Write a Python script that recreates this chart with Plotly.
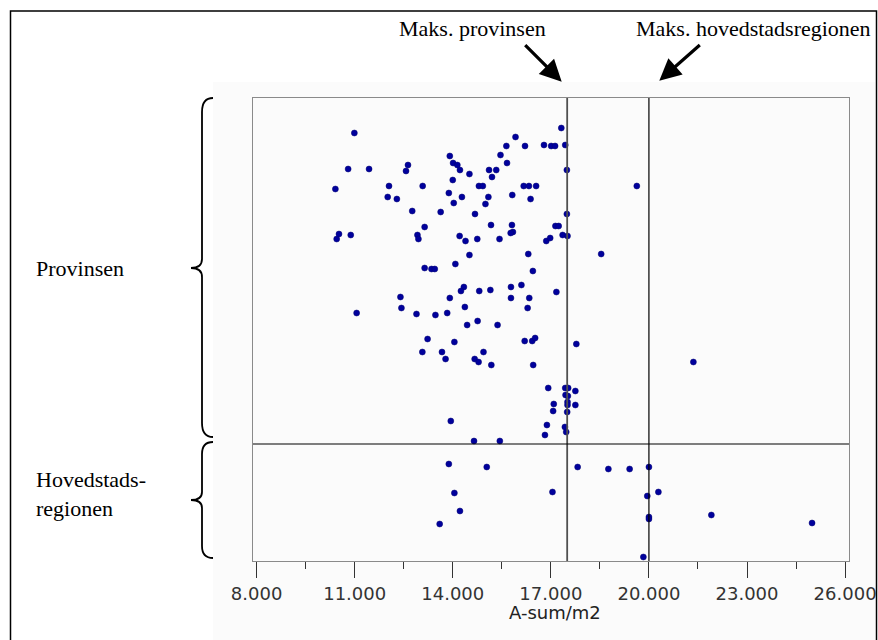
import plotly.graph_objects as go

# ---- data (A-sum/m2 on x; y is only a vertical spread within each group) ----
prov_x = [10990, 17320, 15920, 15640, 16210, 16790, 17010, 17130, 17440, 13910,
          15460, 14010, 14140, 12630, 15660, 10800, 11440, 12570, 14220, 15110,
          15330, 14510, 15200, 17490, 14000, 10410, 12050, 13080, 14800, 14920,
          16170, 16330, 16550, 12010, 12290, 13880, 14280, 14030, 15090, 15820,
          16380, 15000, 12760, 13630, 14680, 17490, 13140, 15170, 15810, 17140,
          17240, 15840, 15770, 10520, 10450, 10880, 12920, 12950, 14210, 14390,
          14750, 15430, 16860, 16980, 17360, 17510, 14510, 16310, 13140, 13350,
          13450, 14080, 16450, 16100, 15780, 14340, 14250, 14810, 15150, 17170,
          12400, 13910, 15780, 16340, 12430, 14370, 16290, 11060, 12890, 13470,
          13830, 14440, 14760, 15370, 13230, 14050, 16200, 16430, 16520, 17780,
          13070, 13670, 14940, 13780, 14670, 14790, 15180, 16460, 16920, 17440,
          17530, 17750, 17450, 17520, 17510, 17510, 17090, 17750, 17070, 17500,
          13940, 16880, 17430, 17470, 16820, 14650, 15440, 19630, 18540, 21360]
prov_y = [427, 432, 423, 414, 414, 415, 414, 414, 415, 404,
          405, 397, 395, 395, 397, 391, 391, 389, 390, 390,
          390, 386, 383, 390, 380, 371, 374, 374, 374, 374,
          374, 374, 374, 363, 361, 367, 363, 357, 363, 365,
          361, 356, 349, 348, 346, 346, 333, 335, 335, 334,
          334, 328, 327, 326, 321, 325, 325, 321, 324, 319,
          321, 321, 319, 322, 325, 324, 305, 306, 292, 291,
          291, 296, 289, 275, 273, 273, 269, 269, 270, 268,
          263, 262, 262, 262, 252, 253, 252, 247, 246, 245,
          247, 235, 239, 235, 221, 218, 219, 219, 222, 216,
          208, 208, 208, 201, 201, 198, 195, 195, 172, 172,
          172, 169, 165, 164, 158, 155, 156, 155, 149, 148,
          139, 135, 133, 128, 125, 119, 119, 374, 306, 198]

hoved_x = [13880, 15040, 17820, 18760, 19410, 20000, 14050, 17050, 20290, 19950,
           14220, 20000, 20000, 21910, 24990, 13600, 19830]
hoved_y = [96, 93, 93, 91, 91, 93, 67, 68, 68, 64,
           49, 43, 41, 45, 37, 36, 3]

x_tickvals = [8000, 11000, 14000, 17000, 20000, 23000, 26000]
max_provinsen = 17500
max_hovedstad = 20000
group_split = 116

# ---- layout helpers (pixel -> paper) ----
W, H = 878, 640
ML, MR, MT, MB = 253, 29, 98, 79
PW, PH = W - ML - MR, H - MT - MB


def pxx(px):
    return (px - ML) / PW


def pyy(py):
    return (H - MB - py) / PH


def brace(top, bot, mid, tip=213, stroke=202, point=191, r=14, r2=9):
    pts = [
        ("M", [(tip, top)]),
        ("Q", [(stroke, top), (stroke, top + r)]),
        ("L", [(stroke, mid - r2)]),
        ("Q", [(stroke, mid), (point, mid)]),
        ("Q", [(stroke, mid), (stroke, mid + r2)]),
        ("L", [(stroke, bot - r)]),
        ("Q", [(stroke, bot), (tip, bot)]),
    ]
    s = ""
    for cmd, ps in pts:
        s += cmd + " " + " ".join(f"{pxx(a):.5f},{pyy(b):.5f}" for a, b in ps) + " "
    return s.strip()


marker = dict(color="#00009c", size=6, symbol="circle",
              line=dict(color="#000070", width=0.5))

fig = go.Figure()
fig.add_trace(go.Scatter(x=prov_x, y=prov_y, mode="markers", marker=marker,
                         name="Provinsen", showlegend=False))
fig.add_trace(go.Scatter(x=hoved_x, y=hoved_y, mode="markers", marker=marker,
                         name="Hovedstadsregionen", showlegend=False))

shapes = []
# faint background panel
shapes.append(dict(type="rect", xref="paper", yref="paper", x0=pxx(213), x1=pxx(875),
                   y0=pyy(82), y1=pyy(650), fillcolor="#fbfbfb", line=dict(width=0),
                   layer="below"))
# outer frame
shapes.append(dict(type="rect", xref="paper", yref="paper", x0=pxx(10.5), x1=pxx(876.5),
                   y0=pyy(11), y1=pyy(660), line=dict(color="black", width=1.5),
                   fillcolor="rgba(0,0,0,0)"))
# reference lines
shapes.append(dict(type="line", xref="x", yref="paper", x0=max_provinsen, x1=max_provinsen,
                   y0=0, y1=1, line=dict(color="#505050", width=1.8)))
shapes.append(dict(type="line", xref="x", yref="paper", x0=max_hovedstad, x1=max_hovedstad,
                   y0=0, y1=1, line=dict(color="black", width=1.2)))
shapes.append(dict(type="line", xref="paper", yref="y", x0=0, x1=1,
                   y0=group_split, y1=group_split, line=dict(color="black", width=1.2)))
# braces
shapes.append(dict(type="path", xref="paper", yref="paper",
                   path=brace(98, 437, 268), line=dict(color="black", width=1.8)))
shapes.append(dict(type="path", xref="paper", yref="paper",
                   path=brace(442, 558, 500, r=12, r2=8), line=dict(color="black", width=1.8)))

serif = dict(family="Liberation Serif, Times New Roman, serif", size=22, color="black")
annotations = [
    dict(text="Maks. provinsen", xref="paper", yref="paper", x=pxx(397), y=pyy(28),
         xanchor="left", yanchor="middle", showarrow=False, font=serif),
    dict(text="Maks. hovedstadsregionen", xref="paper", yref="paper", x=pxx(873), y=pyy(28),
         xanchor="right", yanchor="middle", showarrow=False, font=serif),
    dict(text="Provinsen", xref="paper", yref="paper", x=pxx(34), y=pyy(268),
         xanchor="left", yanchor="middle", showarrow=False, font=serif),
    dict(text="Hovedstads-<br>regionen", xref="paper", yref="paper", x=pxx(34), y=pyy(494),
         xanchor="left", yanchor="middle", align="left", showarrow=False, font=serif),
    dict(text="", xref="paper", yref="paper", x=pxx(561.7), y=pyy(81.7),
         ax=-38, ay=-38, showarrow=True, arrowhead=2, arrowsize=1.35, arrowwidth=3.2,
         arrowcolor="black"),
    dict(text="", xref="paper", yref="paper", x=pxx(659.3), y=pyy(80.7),
         ax=42, ay=-37, showarrow=True, arrowhead=2, arrowsize=1.35, arrowwidth=3.2,
         arrowcolor="black"),
    dict(text="A-sum/m2", xref="paper", yref="paper", x=pxx(555), y=pyy(612),
         xanchor="center", yanchor="middle", showarrow=False,
         font=dict(family="DejaVu Sans, Verdana, sans-serif", size=18, color="#222")),
]

fig.update_layout(
    width=W, height=H,
    margin=dict(l=ML, r=MR, t=MT, b=MB, pad=0, autoexpand=False),
    paper_bgcolor="white", plot_bgcolor="#fbfbfb",
    separators=",.",
    shapes=shapes, annotations=annotations,
    showlegend=False,
)
fig.update_xaxes(range=[7890, 26120], tickvals=x_tickvals, tickformat=",d",
                 ticks="outside", ticklen=16, tickwidth=1.2, tickcolor="#333",
                 minor=dict(dtick=1500, tick0=8000, ticks="outside", ticklen=7,
                            tickwidth=1.2, tickcolor="#333", showgrid=False),
                 showgrid=False, zeroline=False, showline=True, mirror=True,
                 linecolor="#8a8a8a", linewidth=1.2, automargin=False,
                 tickfont=dict(family="DejaVu Sans, Verdana, sans-serif", size=18, color="#333"))
fig.update_yaxes(range=[-1, 462], showticklabels=False, ticks="", showgrid=False,
                 zeroline=False, showline=True, mirror=True, linecolor="#8a8a8a",
                 linewidth=1.2, automargin=False)

fig.write_html("out.html", config={"displayModeBar": False},
               post_script="document.body.style.margin='0';")
